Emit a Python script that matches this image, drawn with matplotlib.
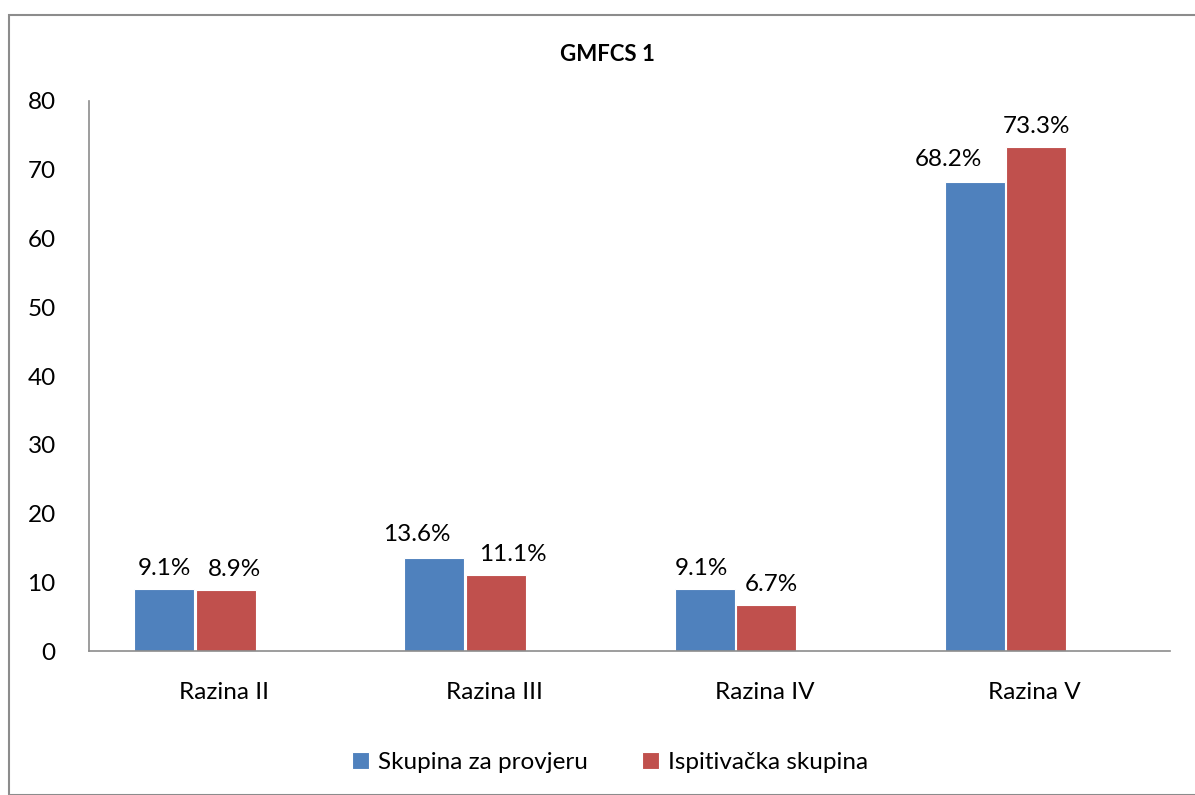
import matplotlib
matplotlib.use('Agg')
import matplotlib.pyplot as plt
import numpy as np
from matplotlib.patches import Rectangle

# podaci
kategorije = ['Razina II', 'Razina III', 'Razina IV', 'Razina V']
skupina_provjera = [9.1, 13.6, 9.1, 68.2]
ispitivacka = [8.9, 11.1, 6.7, 73.3]
naziv = ['Skupina za provjeru', 'Ispitivačka skupina']

plt.rcParams['font.family'] = ['Lato', 'DejaVu Sans']

fig = plt.figure(figsize=(11.95, 7.95), dpi=100)
ax = fig.add_axes([0.0745, 0.181, 0.9045, 0.692])

# okvir oko grafikona
fig.patches.append(Rectangle((9 / 1195, 0), 1.2, 1 - 15 / 795, transform=fig.transFigure,
                             fill=False, edgecolor='#8c8c8c', linewidth=1.5))

x = np.arange(len(kategorije))
w = 0.222
# grupa od tri stupca (treći je prazan), zato su stupci pomaknuti ulijevo
b1 = ax.bar(x - w, skupina_provjera, w, color='#4F81BD', edgecolor='white',
            linewidth=0.8, label=naziv[0])
b2 = ax.bar(x + 0.006, ispitivacka, w, color='#C0504D', edgecolor='white',
            linewidth=0.8, label=naziv[1])

# pomak oznaka gdje bi se preklapale (kao u Excelu)
pomak_plavi = [0, -13, -2, -19]
pomak_crveni = [6, 12, 4, 0]
for bars, pomaci in ((b1, pomak_plavi), (b2, pomak_crveni)):
    for r, dx in zip(bars, pomaci):
        dy = 9 if dx < -10 else 7
        ax.annotate(f'{r.get_height():.1f}%', (r.get_x() + r.get_width() / 2, r.get_height()),
                    xytext=(dx, dy), textcoords='offset points', ha='center', va='bottom',
                    fontsize=17.5)

ax.set_xlim(-0.5, 3.5)
ax.set_ylim(0, 80)
ax.set_yticks(range(0, 81, 10))
ax.set_xticks(x)
ax.set_xticklabels(kategorije)
ax.tick_params(axis='both', length=0, labelsize=17.5)
ax.tick_params(axis='x', pad=22)
ax.tick_params(axis='y', pad=24)
for s in ['top', 'right']:
    ax.spines[s].set_visible(False)
for s in ['left', 'bottom']:
    ax.spines[s].set_color('#8c8c8c')
    ax.spines[s].set_linewidth(1.2)

fig.text(0.508, 0.932, 'GMFCS 1', ha='center', va='center', fontsize=16, fontweight='bold')

ax.legend(loc='center', bbox_to_anchor=(0.482, -0.203), ncol=2, frameon=False, fontsize=17.5,
          handlelength=0.7, handleheight=0.7, handletextpad=0.4, columnspacing=2.2)

fig.savefig('out.png', dpi=100)
